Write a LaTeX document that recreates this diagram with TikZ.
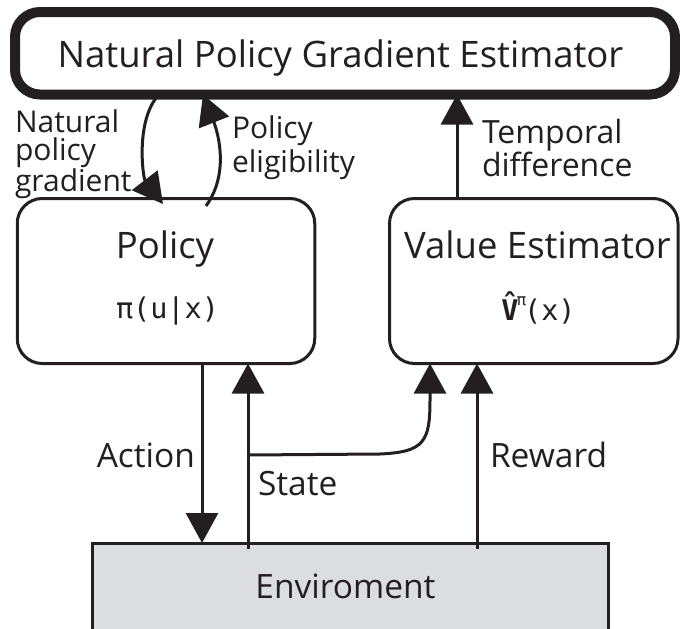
\documentclass[tikz,border=0pt]{standalone}
\usepackage{fontspec}
\setmainfont{Open Sans}
\newfontfamily\monofnt{DejaVu Sans Mono}
\usetikzlibrary{arrows.meta}
\definecolor{ink}{RGB}{35,31,32}
\definecolor{envgray}{RGB}{220,221,223}
\begin{document}
\begin{tikzpicture}[x=1pt,y=1pt,
  box/.style={draw=ink, line width=3pt, rounded corners=25pt, inner sep=0pt, outer sep=0pt},
  arr/.style={draw=ink, line width=3pt, -{Triangle[width=32pt,length=30pt]}},
  conn/.style={draw=ink, line width=3pt},
  txt/.style={text=ink, inner sep=0pt, outer sep=0pt},
  big/.style={txt, font=\fontsize{36.5}{40}\selectfont},
  lab/.style={txt, font=\fontsize{33.5}{36}\selectfont},
  small/.style={txt, font=\fontsize{30}{30}\selectfont},
  formula/.style={txt, font=\monofnt\fontsize{28.5}{30}\selectfont}]
\useasboundingbox (0,0) rectangle (680,-629);
% boxes
\node[box, line width=10pt, minimum width=660pt, minimum height=82.5pt] (npg) at (345,-53.25) {};
\node[big, anchor=base] (npgt) at (340.5,-67) {Natural Policy Gradient Estimator};
\node[box, minimum width=297.5pt, minimum height=165pt] (pol) at (166,-281) {};
\node[big, anchor=base] (polt) at (165,-258) {Policy};
\node[formula, anchor=base] (polf) at (167.5,-318) {π(u|x)};
\node[box, minimum width=288.5pt, minimum height=165pt] (val) at (533.75,-281) {};
\node[big, anchor=base] (valt) at (537.5,-258) {Value Estimator};
\node[formula, anchor=base] (valf) at (538.5,-320) {{\bfseries\accent"02C6 V}\kern-2pt\raisebox{0.5em}{\fontsize{16}{16}\selectfont π}\kern-2pt(x)};
\node[draw=ink, fill=envgray, line width=3pt, minimum width=516pt, minimum height=117pt, inner sep=0pt, outer sep=0pt] (env) at (350,-601.5) {};
\node[lab, anchor=base] (envt) at (345.5,-598) {Enviroment};
% guides
\coordinate (xA) at (202,0);
\coordinate (xS) at (248,0);
\coordinate (xB) at (430,0);
\coordinate (xR) at (477,0);
\coordinate (xTD) at (457,0);
\coordinate (xNG) at (159,0);
\coordinate (xPE) at (203,0);
\coordinate (ngE) at (163,-204);
\coordinate (peS) at (206,-206);
\coordinate (brS) at (248,-455);
% connectors
\draw[arr] (pol.south -| xA) -- (env.north -| xA);
\draw[arr] ([yshift=-6pt]env.north -| xS) -- (pol.south -| xS);
\draw[arr] (brS) -- (380,-454) .. controls (424,-452) and (430,-442) .. (430,-400) -- (val.south -| xB);
\draw[arr] ([yshift=-6pt]env.north -| xR) -- (val.south -| xR);
\draw[arr] (val.north -| xTD) -- (npg.south -| xTD);
\draw[arr] (npg.south -| xNG) .. controls (135,-120) and (143,-178) .. (ngE);
\draw[arr] (peS) .. controls (232,-170) and (215,-125) .. (npg.south -| xPE);
% labels
\node[lab, anchor=base east] (lAct) at (195,-467) {Action};
\node[lab, anchor=base west] (lSt) at (258,-495) {State};
\node[lab, anchor=base west] (lRw) at (490,-467) {Reward};
\node[small, font=\fontsize{32}{32}\selectfont, anchor=base west] (lTD) at (482,-143) {\vtop{\baselineskip=29pt\hbox{Temporal}\hbox{difference}}};
\node[small, anchor=base west] (lNG) at (15,-132) {\vtop{\baselineskip=28pt\hbox{Natural}\hbox{policy}\hbox{gradient}}};
\node[small, anchor=base west] (lPE) at (232,-138) {\vtop{\baselineskip=34pt\hbox{Policy}\hbox{eligibility}}};
\end{tikzpicture}
\end{document}
